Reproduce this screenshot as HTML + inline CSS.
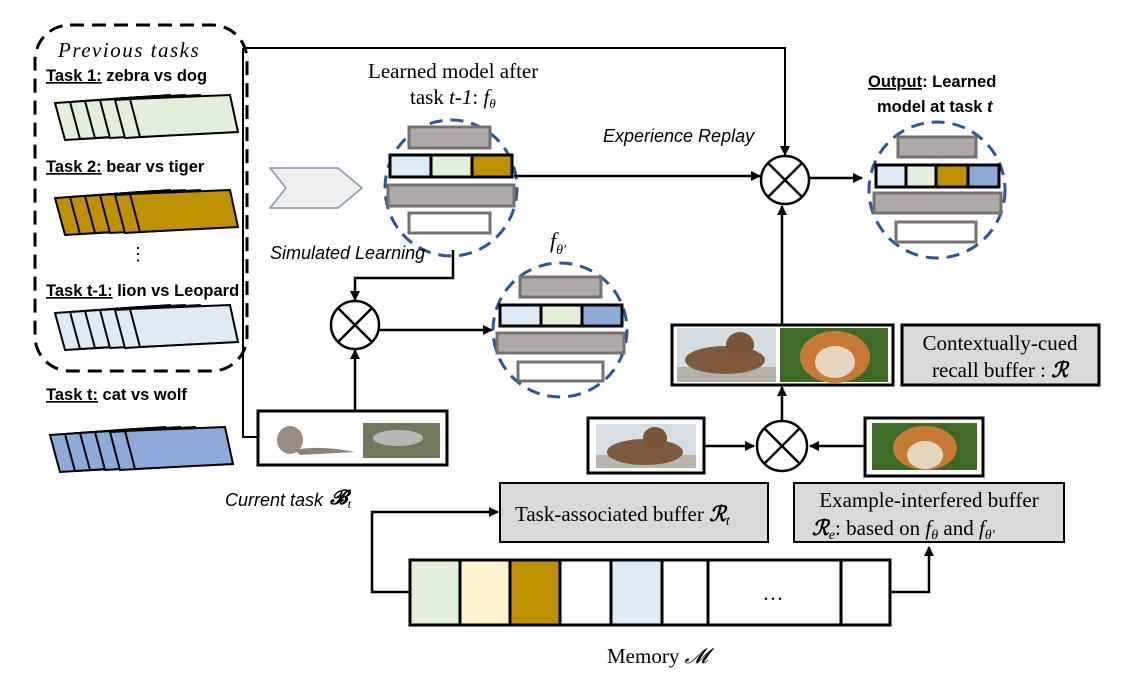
<!DOCTYPE html>
<html><head><meta charset="utf-8"><style>
html,body{margin:0;padding:0;background:#fff}
svg{display:block}
.b{font-family:"Liberation Sans",sans-serif;font-weight:bold;font-size:16.5px}
.s{font-family:"Liberation Serif",serif;font-size:21px}
.i{font-family:"Liberation Sans",sans-serif;font-style:italic;font-size:18px}
</style></head><body>
<svg width="1124" height="673" viewBox="0 0 1124 673" xmlns="http://www.w3.org/2000/svg">
<defs>
<marker id="a" markerWidth="10" markerHeight="10" refX="9" refY="5" orient="auto" markerUnits="userSpaceOnUse"><path d="M0,0 L10,5 L0,10 z" fill="#000"/></marker>
<g id="stk">
<polygon points="0,8 10,45 95,40 85,2" stroke="#000" stroke-width="2"/>
<polygon points="15,7 25,44 110,39 100,1" stroke="#000" stroke-width="2"/>
<polygon points="30,6 40,43 125,38 115,0" stroke="#000" stroke-width="2"/>
<polygon points="45,5 55,43 140,38 130,0" stroke="#000" stroke-width="2"/>
<polygon points="60,5 70,43 155,38 145,0" stroke="#000" stroke-width="2"/>
<polygon points="75,4 85,42 183,37 175,0" stroke="#000" stroke-width="2"/>
</g>
</defs>

<rect x="35" y="25" width="212" height="346" rx="35" fill="none" stroke="#000" stroke-width="3" stroke-dasharray="14,8"/>
<text x="58" y="57" font-family="Liberation Serif,serif" font-style="italic" font-size="21" letter-spacing="1.5">Previous tasks</text>
<text x="46" y="81" class="b"><tspan text-decoration="underline">Task 1:</tspan> zebra vs dog</text>
<use href="#stk" x="55" y="95" fill="#e2efda"/>
<text x="46" y="172" class="b"><tspan text-decoration="underline">Task 2:</tspan> bear vs tiger</text>
<use href="#stk" x="55" y="190" fill="#bf9000"/>
<text x="129" y="260" font-size="18" font-family="Liberation Sans">⋮</text>
<text x="46" y="296" class="b" font-size="17.5"><tspan text-decoration="underline">Task t-1:</tspan> lion vs Leopard</text>
<use href="#stk" x="55" y="305" fill="#ddebf7"/>
<text x="46" y="400" class="b"><tspan text-decoration="underline">Task t:</tspan> cat vs wolf</text>
<use href="#stk" x="50" y="427" fill="#8eaadb"/>

<polyline points="243,48 785,48 785,155" fill="none" stroke="#000" stroke-width="2" marker-end="url(#a)"/>
<polyline points="243,48 243,437 258,437" fill="none" stroke="#000" stroke-width="2"/>

<polygon points="270,168 338,168 362,188 338,208 270,208 286,188" fill="#eeeeee" stroke="#8497b0" stroke-width="1.5"/>

<rect x="258" y="411" width="189" height="54" fill="#fff" stroke="#000" stroke-width="3"/>
<ellipse cx="290" cy="440" rx="13" ry="14" fill="#9c8d7e"/>
<path d="M295,450 Q320,445 355,452 L300,455 z" fill="#8a8278"/>
<rect x="363" y="423" width="77" height="35" fill="#6f7a5c"/>
<ellipse cx="398" cy="438" rx="25" ry="8" fill="#b7b7b7"/>
<text x="225" y="506" class="i" font-size="17.5">Current task</text>
<text x="330" y="504" font-family="Liberation Serif,serif" font-weight="bold" font-style="italic" font-size="20">𝓑<tspan font-size="13" dy="4" font-weight="normal">t</tspan></text>

<text x="368" y="78" class="s">Learned model after</text>
<text x="410" y="104" class="s">task <tspan font-style="italic">t-1</tspan>: <tspan font-style="italic">f</tspan><tspan font-size="13" dy="4" font-style="italic">θ</tspan></text>
<ellipse cx="451" cy="188" rx="66" ry="68" fill="none" stroke="#2f5597" stroke-width="3" stroke-dasharray="13,8"/>
<rect x="409" y="127" width="81" height="21" fill="#aeaaaa" stroke="#767171" stroke-width="3"/>
<rect x="390" y="155" width="41" height="22" fill="#ddebf7" stroke="#000" stroke-width="3"/>
<rect x="431" y="155" width="41" height="22" fill="#e2efda" stroke="#000" stroke-width="3"/>
<rect x="472" y="155" width="40" height="22" fill="#bf9000" stroke="#000" stroke-width="3"/>
<rect x="388" y="185" width="126" height="21" fill="#aeaaaa" stroke="#767171" stroke-width="3"/>
<rect x="409" y="213" width="81" height="20" fill="#fff" stroke="#767171" stroke-width="3"/>
<line x1="514" y1="176" x2="760" y2="176" stroke="#000" stroke-width="2.5" marker-end="url(#a)"/>
<text x="603" y="142" class="i" font-size="18.5">Experience Replay</text>

<circle cx="785" cy="180" r="24" fill="#fff" stroke="#000" stroke-width="2.5"/>
<line x1="768" y1="163" x2="802" y2="197" stroke="#000" stroke-width="2.5"/>
<line x1="802" y1="163" x2="768" y2="197" stroke="#000" stroke-width="2.5"/>
<line x1="810" y1="178" x2="862" y2="178" stroke="#000" stroke-width="2.5" marker-end="url(#a)"/>

<text x="868" y="87" class="b" font-size="19.5"><tspan text-decoration="underline">Output</tspan>: Learned</text>
<text x="877" y="112" class="b" font-size="19.5">model at task <tspan font-style="italic">t</tspan></text>
<ellipse cx="937" cy="190" rx="68" ry="68" fill="none" stroke="#2f5597" stroke-width="3" stroke-dasharray="13,8"/>
<rect x="898" y="137" width="78" height="20" fill="#aeaaaa" stroke="#767171" stroke-width="3"/>
<rect x="876" y="165" width="30" height="22" fill="#ddebf7" stroke="#000" stroke-width="3"/>
<rect x="906" y="165" width="30" height="22" fill="#e2efda" stroke="#000" stroke-width="3"/>
<rect x="936" y="165" width="32" height="22" fill="#bf9000" stroke="#000" stroke-width="3"/>
<rect x="968" y="165" width="31" height="22" fill="#8eaadb" stroke="#000" stroke-width="3"/>
<rect x="874" y="193" width="127" height="20" fill="#aeaaaa" stroke="#767171" stroke-width="3"/>
<rect x="896" y="222" width="80" height="20" fill="#fff" stroke="#767171" stroke-width="3"/>

<text x="270" y="259" class="i">Simulated Learning</text>
<polyline points="453,250 453,278 355,278 355,300" fill="none" stroke="#000" stroke-width="2.5" marker-end="url(#a)"/>
<circle cx="355" cy="325" r="24" fill="#fff" stroke="#000" stroke-width="2.5"/>
<line x1="338" y1="308" x2="372" y2="342" stroke="#000" stroke-width="2.5"/>
<line x1="372" y1="308" x2="338" y2="342" stroke="#000" stroke-width="2.5"/>
<line x1="355" y1="411" x2="355" y2="350" stroke="#000" stroke-width="2.5" marker-end="url(#a)"/>
<line x1="379" y1="330" x2="492" y2="330" stroke="#000" stroke-width="2.5" marker-end="url(#a)"/>

<text x="550" y="248" font-family="Liberation Serif,serif" font-style="italic" font-size="22">f<tspan font-size="14" dy="6">θ′</tspan></text>
<ellipse cx="560" cy="330" rx="67" ry="67" fill="none" stroke="#2f5597" stroke-width="3" stroke-dasharray="13,8"/>
<rect x="520" y="277" width="81" height="20" fill="#aeaaaa" stroke="#767171" stroke-width="3"/>
<rect x="500" y="305" width="41" height="21" fill="#ddebf7" stroke="#000" stroke-width="3"/>
<rect x="541" y="305" width="41" height="21" fill="#e2efda" stroke="#000" stroke-width="3"/>
<rect x="582" y="305" width="40" height="21" fill="#8eaadb" stroke="#000" stroke-width="3"/>
<rect x="497" y="333" width="127" height="20" fill="#aeaaaa" stroke="#767171" stroke-width="3"/>
<rect x="518" y="362" width="85" height="19" fill="#fff" stroke="#767171" stroke-width="3"/>

<line x1="782" y1="325" x2="782" y2="206" stroke="#000" stroke-width="2.5" marker-end="url(#a)"/>
<rect x="672" y="325" width="221" height="60" fill="#fff" stroke="#000" stroke-width="3"/>
<rect x="677" y="328" width="99" height="54" fill="#d5dde2"/>
<rect x="677" y="367" width="99" height="15" fill="#b4b1aa"/>
<ellipse cx="725" cy="360" rx="40" ry="14" fill="#7d5a3e"/>
<ellipse cx="740" cy="345" rx="14" ry="13" fill="#7b5639"/>
<rect x="780" y="328" width="108" height="54" fill="#3d6a24"/>
<ellipse cx="835" cy="357" rx="35" ry="26" fill="#c77a33"/>
<ellipse cx="835" cy="362" rx="20" ry="16" fill="#e6d6c0"/>
<rect x="902" y="325" width="197" height="60" fill="#d9d9d9" stroke="#000" stroke-width="3"/>
<text x="1000" y="350" class="s" text-anchor="middle" font-size="22">Contextually-cued</text>
<text x="1000" y="377" class="s" text-anchor="middle" font-size="22">recall buffer : <tspan font-weight="bold" font-style="italic">ℛ</tspan></text>

<line x1="782" y1="421" x2="782" y2="387" stroke="#000" stroke-width="2.5" marker-end="url(#a)"/>
<rect x="588" y="418" width="116" height="55" fill="#fff" stroke="#000" stroke-width="3"/>
<rect x="596" y="424" width="100" height="44" fill="#d6dde4"/>
<rect x="596" y="455" width="100" height="13" fill="#b9b5ad"/>
<ellipse cx="645" cy="452" rx="38" ry="13" fill="#7d5a3e"/>
<ellipse cx="655" cy="438" rx="12" ry="11" fill="#7b5639"/>
<line x1="704" y1="446" x2="754" y2="446" stroke="#000" stroke-width="2.5" marker-end="url(#a)"/>
<circle cx="782" cy="446" r="25" fill="#fff" stroke="#000" stroke-width="2.5"/>
<line x1="764" y1="428" x2="800" y2="464" stroke="#000" stroke-width="2.5"/>
<line x1="800" y1="428" x2="764" y2="464" stroke="#000" stroke-width="2.5"/>
<line x1="865" y1="446" x2="810" y2="446" stroke="#000" stroke-width="2.5" marker-end="url(#a)"/>
<rect x="865" y="418" width="118" height="58" fill="#fff" stroke="#000" stroke-width="3"/>
<rect x="872" y="423" width="105" height="47" fill="#3d6a24"/>
<ellipse cx="925" cy="448" rx="32" ry="22" fill="#c77a33"/>
<ellipse cx="925" cy="455" rx="18" ry="14" fill="#e6d6c0"/>

<rect x="500" y="483" width="268" height="59" fill="#d9d9d9" stroke="#000" stroke-width="2"/>
<text x="515" y="521" class="s" font-size="22">Task-associated buffer <tspan font-style="italic" font-weight="bold">ℛ</tspan><tspan font-size="14" dy="4" font-style="italic">t</tspan></text>
<rect x="794" y="483" width="270" height="59" fill="#d9d9d9" stroke="#000" stroke-width="2"/>
<text x="929" y="507" class="s" text-anchor="middle" font-size="22.5">Example-interfered buffer</text>
<text x="812" y="535" class="s" font-size="22"><tspan font-style="italic" font-weight="bold">ℛ</tspan><tspan font-size="14" dy="4" font-style="italic">e</tspan><tspan dy="-4">: based on </tspan><tspan font-style="italic">f</tspan><tspan font-size="14" dy="4" font-style="italic">θ</tspan><tspan dy="-4"> and </tspan><tspan font-style="italic">f</tspan><tspan font-size="14" dy="4" font-style="italic">θ′</tspan></text>

<polyline points="410,592 372,592 372,512 498,512" fill="none" stroke="#000" stroke-width="2.5" marker-end="url(#a)"/>
<polyline points="890,592 929,592 929,547" fill="none" stroke="#000" stroke-width="2.5" marker-end="url(#a)"/>
<rect x="410" y="560" width="50" height="65" fill="#e2efda" stroke="#000" stroke-width="3"/>
<rect x="460" y="560" width="50" height="65" fill="#fff2cc" stroke="#000" stroke-width="3"/>
<rect x="510" y="560" width="50" height="65" fill="#bf9000" stroke="#000" stroke-width="3"/>
<rect x="560" y="560" width="51" height="65" fill="#fff" stroke="#000" stroke-width="3"/>
<rect x="611" y="560" width="51" height="65" fill="#ddebf7" stroke="#000" stroke-width="3"/>
<rect x="662" y="560" width="46" height="65" fill="#fff" stroke="#000" stroke-width="3"/>
<rect x="708" y="560" width="133" height="65" fill="#fff" stroke="#000" stroke-width="3"/>
<rect x="841" y="560" width="49" height="65" fill="#fff" stroke="#000" stroke-width="3"/>
<text x="773" y="600" class="s" text-anchor="middle">…</text>
<text x="607" y="663" class="s">Memory <tspan font-style="italic">𝓜</tspan></text>
</svg>
</body></html>
